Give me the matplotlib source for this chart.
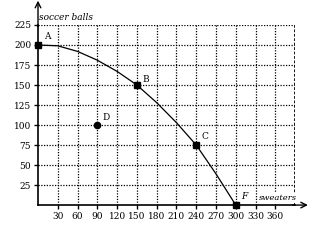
import matplotlib
matplotlib.use("Agg")
import matplotlib.pyplot as plt

# production possibilities frontier
CURVE_X = [0, 30, 60, 90, 120, 150, 180, 210, 240, 270, 300]
CURVE_Y = [200, 199, 192, 181, 167, 150, 128, 103, 75, 39, 0]

POINT_NAMES = ["A", "B", "C", "F"]
POINT_X = [0, 150, 240, 300]
POINT_Y = [200, 150, 75, 0]

D_X, D_Y = 90, 100

X_TICKS = [30, 60, 90, 120, 150, 180, 210, 240, 270, 300, 330, 360]
Y_TICKS = [25, 50, 75, 100, 125, 150, 175, 200, 225]

FONT = "DejaVu Serif"

fig = plt.figure(figsize=(3.09, 2.45), dpi=100)
ax = fig.add_axes([0.123, 0.163, 0.832, 0.735])
ax.set_xlim(0, 390)
ax.set_ylim(0, 225)

# dotted grid
for x in X_TICKS:
    ax.plot([x, x], [0, 225], color="black", lw=0.9, ls=(0, (1, 1.2)), zorder=1)
for y in Y_TICKS:
    ax.plot([0, 390], [y, y], color="black", lw=0.9, ls=(0, (1, 1.2)), zorder=1)
ax.plot([390, 390], [0, 225], color="black", lw=2.0, ls=(0, (1, 0.6)), zorder=1)

for s in ["top", "right"]:
    ax.spines[s].set_visible(False)
ax.spines["left"].set_linewidth(1.2)
ax.spines["bottom"].set_linewidth(1.2)

# axis arrows
ax.annotate("", xy=(0, 1.135), xytext=(0, 0.99), xycoords="axes fraction",
            textcoords="axes fraction",
            arrowprops=dict(arrowstyle="->", lw=1.0, color="black",
                            shrinkA=0, shrinkB=0),
            annotation_clip=False)
ax.annotate("", xy=(1.05, 0), xytext=(0.99, 0), xycoords="axes fraction",
            textcoords="axes fraction",
            arrowprops=dict(arrowstyle="->", lw=1.0, color="black",
                            shrinkA=0, shrinkB=0),
            annotation_clip=False)

ax.set_xticks(X_TICKS)
ax.set_yticks(Y_TICKS)
ax.tick_params(length=3, width=1, labelsize=6.5, pad=2)
for lab in ax.get_xticklabels() + ax.get_yticklabels():
    lab.set_family(FONT)

ax.plot(CURVE_X, CURVE_Y, color="black", lw=0.9, zorder=3)
ax.plot(POINT_X, POINT_Y, "s", color="black", ms=4.5, zorder=4, clip_on=False)
ax.plot([D_X], [D_Y], "o", color="black", ms=4.5, zorder=4)

offsets = {"A": (4, 3), "B": (4, 1), "C": (4, 3), "F": (4, 3)}
for n, x, y in zip(POINT_NAMES, POINT_X, POINT_Y):
    dx, dy = offsets[n]
    ax.annotate(n, (x, y), xytext=(dx, dy), textcoords="offset points",
                fontsize=6.5, family=FONT, style="italic" if n == "F" else "normal",
                va="bottom", ha="left")
ax.annotate("D", (D_X, D_Y), xytext=(4, 2), textcoords="offset points",
            fontsize=6.5, family=FONT, va="bottom", ha="left")

ax.text(2, 229, "soccer balls", fontsize=6.5, family=FONT, style="italic",
        ha="left", va="bottom", clip_on=False)
ax.text(335, 4, "sweaters", fontsize=6, family=FONT, style="italic",
        ha="left", va="bottom", zorder=5,
        bbox=dict(facecolor="white", edgecolor="none", pad=0.5))

fig.savefig("out.png", dpi=100)
